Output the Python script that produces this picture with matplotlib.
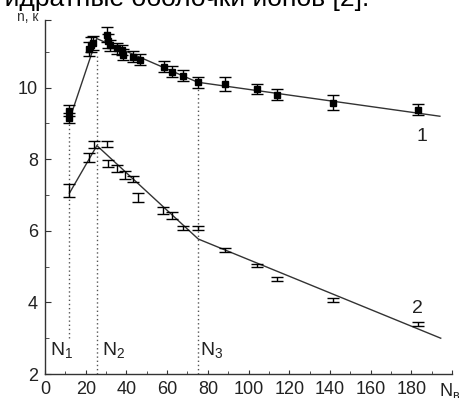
import matplotlib
matplotlib.use("Agg")
from matplotlib import pyplot as plt

plt.rcParams['font.family'] = ['Liberation Sans', 'DejaVu Sans']
plt.rcParams['mathtext.fontset'] = 'custom'
plt.rcParams['mathtext.rm'] = 'Liberation Sans'

# Curve 1 (squares)
s1_x = [12, 12, 21.5, 22.5, 23.5, 30.3, 30.8, 31.9, 35.2, 37.7, 38.5, 43.4, 46.7,
        58.3, 62.4, 68, 75, 88.6, 104, 114, 141.7, 183]
s1_y = [9.35, 9.15, 11.08, 11.2, 11.24, 11.48, 11.3, 11.18, 11.1, 11.05, 10.92, 10.86, 10.78,
        10.58, 10.44, 10.33, 10.15, 10.1, 9.96, 9.8, 9.58, 9.38]
s1_err = [0.15, 0.15, 0.2, 0.2, 0.2, 0.2, 0.2, 0.15, 0.15, 0.15, 0.15, 0.15, 0.15,
          0.15, 0.15, 0.15, 0.15, 0.2, 0.15, 0.15, 0.2, 0.15]

# Curve 2 (error bars only)
s2_x = [12, 21.5, 24, 30.6, 30.8, 35.2, 39.3, 43.4, 45.9, 58, 62.3, 68, 75.3,
        88.5, 104.3, 114, 141.7, 183]
s2_y = [7.12, 8.05, 8.42, 8.42, 7.88, 7.74, 7.56, 7.45, 6.93, 6.57, 6.42, 6.07, 6.07,
        5.47, 5.03, 4.66, 4.06, 3.39]
s2_err = [0.18, 0.12, 0.1, 0.08, 0.1, 0.1, 0.1, 0.08, 0.13, 0.1, 0.1, 0.06, 0.06,
          0.05, 0.05, 0.06, 0.05, 0.06]

# piecewise linear fits
fit1_x = [12, 25.4, 75, 194]
fit1_y = [9.1, 11.37, 10.15, 9.2]
fit2_x = [12, 25.5, 75.3, 194.4]
fit2_y = [7.05, 8.38, 5.77, 3.0]

# break points N1, N2, N3
n_x = [12, 25.5, 75.3]
n_lo = [3.0, 2.0, 2.0]
n_hi = [9.0, 10.9, 10.0]
n_labels = ['N$_\\mathregular{1}$', 'N$_\\mathregular{2}$', 'N$_\\mathregular{3}$']

y_top = 11.9

fig = plt.figure(figsize=(4.59, 3.98), dpi=100)
ax = fig.add_axes([0.098, 0.0603, 0.887, 0.8995 * (y_top - 2) / 10])

for x, lo, hi in zip(n_x, n_lo, n_hi):
    ax.plot([x, x], [lo, hi], color='#555555', lw=1, linestyle=(0, (1, 2)))

ax.plot(fit1_x, fit1_y, color='#333333', lw=1)
ax.plot(fit2_x, fit2_y, color='#333333', lw=1)

ax.errorbar(s1_x, s1_y, yerr=s1_err, fmt='s', color='black', ms=4.5,
            elinewidth=1, capsize=4, capthick=1)
ax.errorbar(s2_x, s2_y, yerr=s2_err, fmt='none', ecolor='black',
            elinewidth=1, capsize=4, capthick=1)

ax.set_xlim(0, 200)
ax.set_ylim(2, y_top)
ax.set_xticks(range(0, 201, 20))
ax.set_xticklabels([str(v) for v in range(0, 181, 20)] + [''])
ax.set_xticks(range(10, 200, 20), minor=True)
ax.set_yticks([2, 4, 6, 8, 10, y_top])
ax.set_yticklabels(['2', '4', '6', '8', '10', ''])
ax.set_yticks([3, 5, 7, 9, 11], minor=True)

for s in ['top', 'right']:
    ax.spines[s].set_visible(False)
for s in ['left', 'bottom']:
    ax.spines[s].set_color('#333333')
    ax.spines[s].set_linewidth(1)
ax.tick_params(which='both', direction='in', colors='#333333', labelcolor='#222222')
ax.tick_params(axis='y', which='major', length=4, labelsize=13, pad=5)
ax.tick_params(axis='y', which='minor', length=3)
ax.tick_params(axis='x', which='major', length=3, labelsize=13, pad=5)
ax.tick_params(axis='x', which='minor', length=2)

ax.annotate('N$_\\mathregular{в}$', xy=(200, 2), xytext=(-2, -5), textcoords='offset points',
            ha='center', va='top', fontsize=13, color='#222222', annotation_clip=False)
ax.annotate('n, к', xy=(0, y_top), xytext=(-5, 2), textcoords='offset points',
            ha='right', va='center', fontsize=10, color='#333333', annotation_clip=False)

for x, lab in zip([2.5, 28, 76], n_labels):
    ax.text(x, 2.65, lab, ha='left', va='center', fontsize=14, color='#222222')

ax.text(185, 8.64, '1', ha='center', va='center', fontsize=14, color='#222222')
ax.text(183, 3.82, '2', ha='center', va='center', fontsize=14, color='#222222')

fig.text(-0.01, 0.985, 'гидратные оболочки ионов [2].', ha='left', va='baseline',
         fontsize=19, color='black')

fig.savefig('out.png', dpi=100)
